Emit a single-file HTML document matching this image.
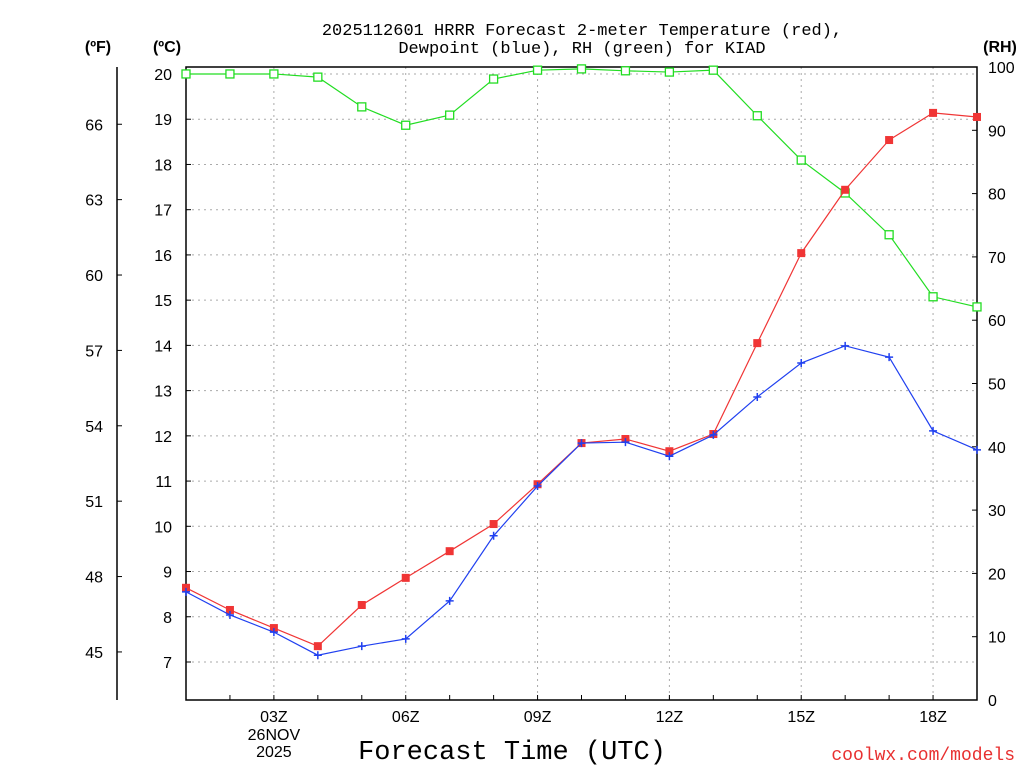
<!DOCTYPE html>
<html><head><meta charset="utf-8"><style>
body{margin:0;background:#fff}
svg{display:block;font-family:"Liberation Sans",sans-serif}
.mono{font-family:"Liberation Mono",monospace}
</style></head><body>
<svg id="c" width="1024" height="768">
<text class="mono" x="582" y="35" font-size="17" text-anchor="middle">2025112601 HRRR Forecast 2-meter Temperature (red),</text>
<text class="mono" x="582" y="53" font-size="17" text-anchor="middle">Dewpoint (blue), RH (green) for KIAD</text>
<text x="98" y="52" font-size="16" font-weight="bold" text-anchor="middle">(ºF)</text>
<text x="167" y="52" font-size="16" font-weight="bold" text-anchor="middle">(ºC)</text>
<text x="1000" y="52" font-size="16" font-weight="bold" text-anchor="middle">(RH)</text>
<text class="mono" x="512" y="759" font-size="27" text-anchor="middle">Forecast Time (UTC)</text>
<text class="mono" x="1015" y="760" font-size="18" fill="#e83030" text-anchor="end">coolwx.com/models</text>
<g id="g"></g>
</svg>
<script>
const hours=[1,2,3,4,5,6,7,8,9,10,11,12,13,14,15,16,17,18,19];
const tempC=[8.64,8.15,7.75,7.35,8.26,8.86,9.45,10.05,10.93,11.84,11.93,11.66,12.04,14.05,16.04,17.44,18.54,19.14,19.05];
const dewC=[8.55,8.04,7.66,7.15,7.35,7.51,8.35,9.79,10.89,11.84,11.86,11.55,12.02,12.86,13.61,13.99,13.74,12.11,11.69];
const rh=[98.9,98.9,98.9,98.4,93.7,90.8,92.4,98.1,99.5,99.7,99.4,99.2,99.5,92.3,85.3,80.1,73.5,63.7,62.1];
const cTicks=[7,8,9,10,11,12,13,14,15,16,17,18,19,20];
const fTicks=[45,48,51,54,57,60,63,66];
const rhTicks=[0,10,20,30,40,50,60,70,80,90,100];
const xTicks=[3,6,9,12,15,18];
const xTickLabels=["03Z","06Z","09Z","12Z","15Z","18Z"];

const L=186,R=977,T=67,B=700;
const X=h=>L+(h-1)*(R-L)/18;
const YC=c=>74+(20-c)*45.23;
const YF=f=>YC((f-32)*5/9);
const YR=r=>B-r*(B-T)/100;
const g=document.getElementById('g');
const NS='http://www.w3.org/2000/svg';
function el(t,a,txt){const e=document.createElementNS(NS,t);for(const k in a)e.setAttribute(k,a[k]);if(txt!==undefined)e.textContent=txt;g.appendChild(e);return e;}
cTicks.forEach(c=>{const e=el('line',{x1:L,x2:R,y1:YC(c),y2:YC(c),stroke:'#aaa','stroke-dasharray':'2,4'});

});
xTicks.forEach(h=>{const e=el('line',{x1:X(h),x2:X(h),y1:T,y2:B,stroke:'#aaa','stroke-dasharray':'2,4'});

});
const fr=el('rect',{x:L,y:T,width:R-L,height:B-T,fill:'none',stroke:'#000','stroke-width':1.5});


const fa=el('line',{x1:117,x2:117,y1:T,y2:B,stroke:'#000','stroke-width':1.5});


cTicks.forEach(c=>{const e=el('text',{x:172,y:YC(c)+6,'font-size':16,'text-anchor':'end'},String(c));


el('line',{x1:L,x2:L+5,y1:YC(c),y2:YC(c),stroke:'#000'});});
fTicks.forEach(f=>{const e=el('text',{x:103,y:YF(f)+6,'font-size':16,'text-anchor':'end'},String(f));


el('line',{x1:117,x2:122,y1:YF(f),y2:YF(f),stroke:'#000'});});
rhTicks.forEach(r=>{const e=el('text',{x:988,y:YR(r)+6,'font-size':16},String(r));


el('line',{x1:R-5,x2:R,y1:YR(r),y2:YR(r),stroke:'#000'});});
hours.forEach(h=>el('line',{x1:X(h),x2:X(h),y1:B,y2:B-5,stroke:'#000'}));
xTicks.forEach((h,i)=>{const e=el('text',{x:X(h),y:722,'font-size':16,'text-anchor':'middle'},xTickLabels[i]);

});
const d1=el('text',{x:X(3),y:740,'font-size':16,'text-anchor':'middle'},'26NOV');


const d2=el('text',{x:X(3),y:757,'font-size':16,'text-anchor':'middle'},'2025');


function series(vals,yf,color,name,marker){
 const p=el('polyline',{points:vals.map((v,i)=>X(hours[i])+','+yf(v)).join(' '),fill:'none',stroke:color,'stroke-width':1.2});
 
 
 vals.forEach((v,i)=>{const x=X(hours[i]),y=yf(v);let m;
  if(marker==='fill')m=el('rect',{x:x-4,y:y-4,width:8,height:8,fill:color});
  else if(marker==='open')m=el('rect',{x:x-4,y:y-4,width:8,height:8,fill:'#fff',stroke:color,'stroke-width':1.3});
  else m=el('path',{d:`M${x-4} ${y}H${x+4}M${x} ${y-4}V${y+4}`,stroke:color,'stroke-width':1.5});
  
  });
}
series(rh,YR,'#22dd22','rh','open');
series(tempC,YC,'#f03535','temperature','fill');
series(dewC,YC,'#2040f0','dewpoint','plus');
</script>
</body></html>
